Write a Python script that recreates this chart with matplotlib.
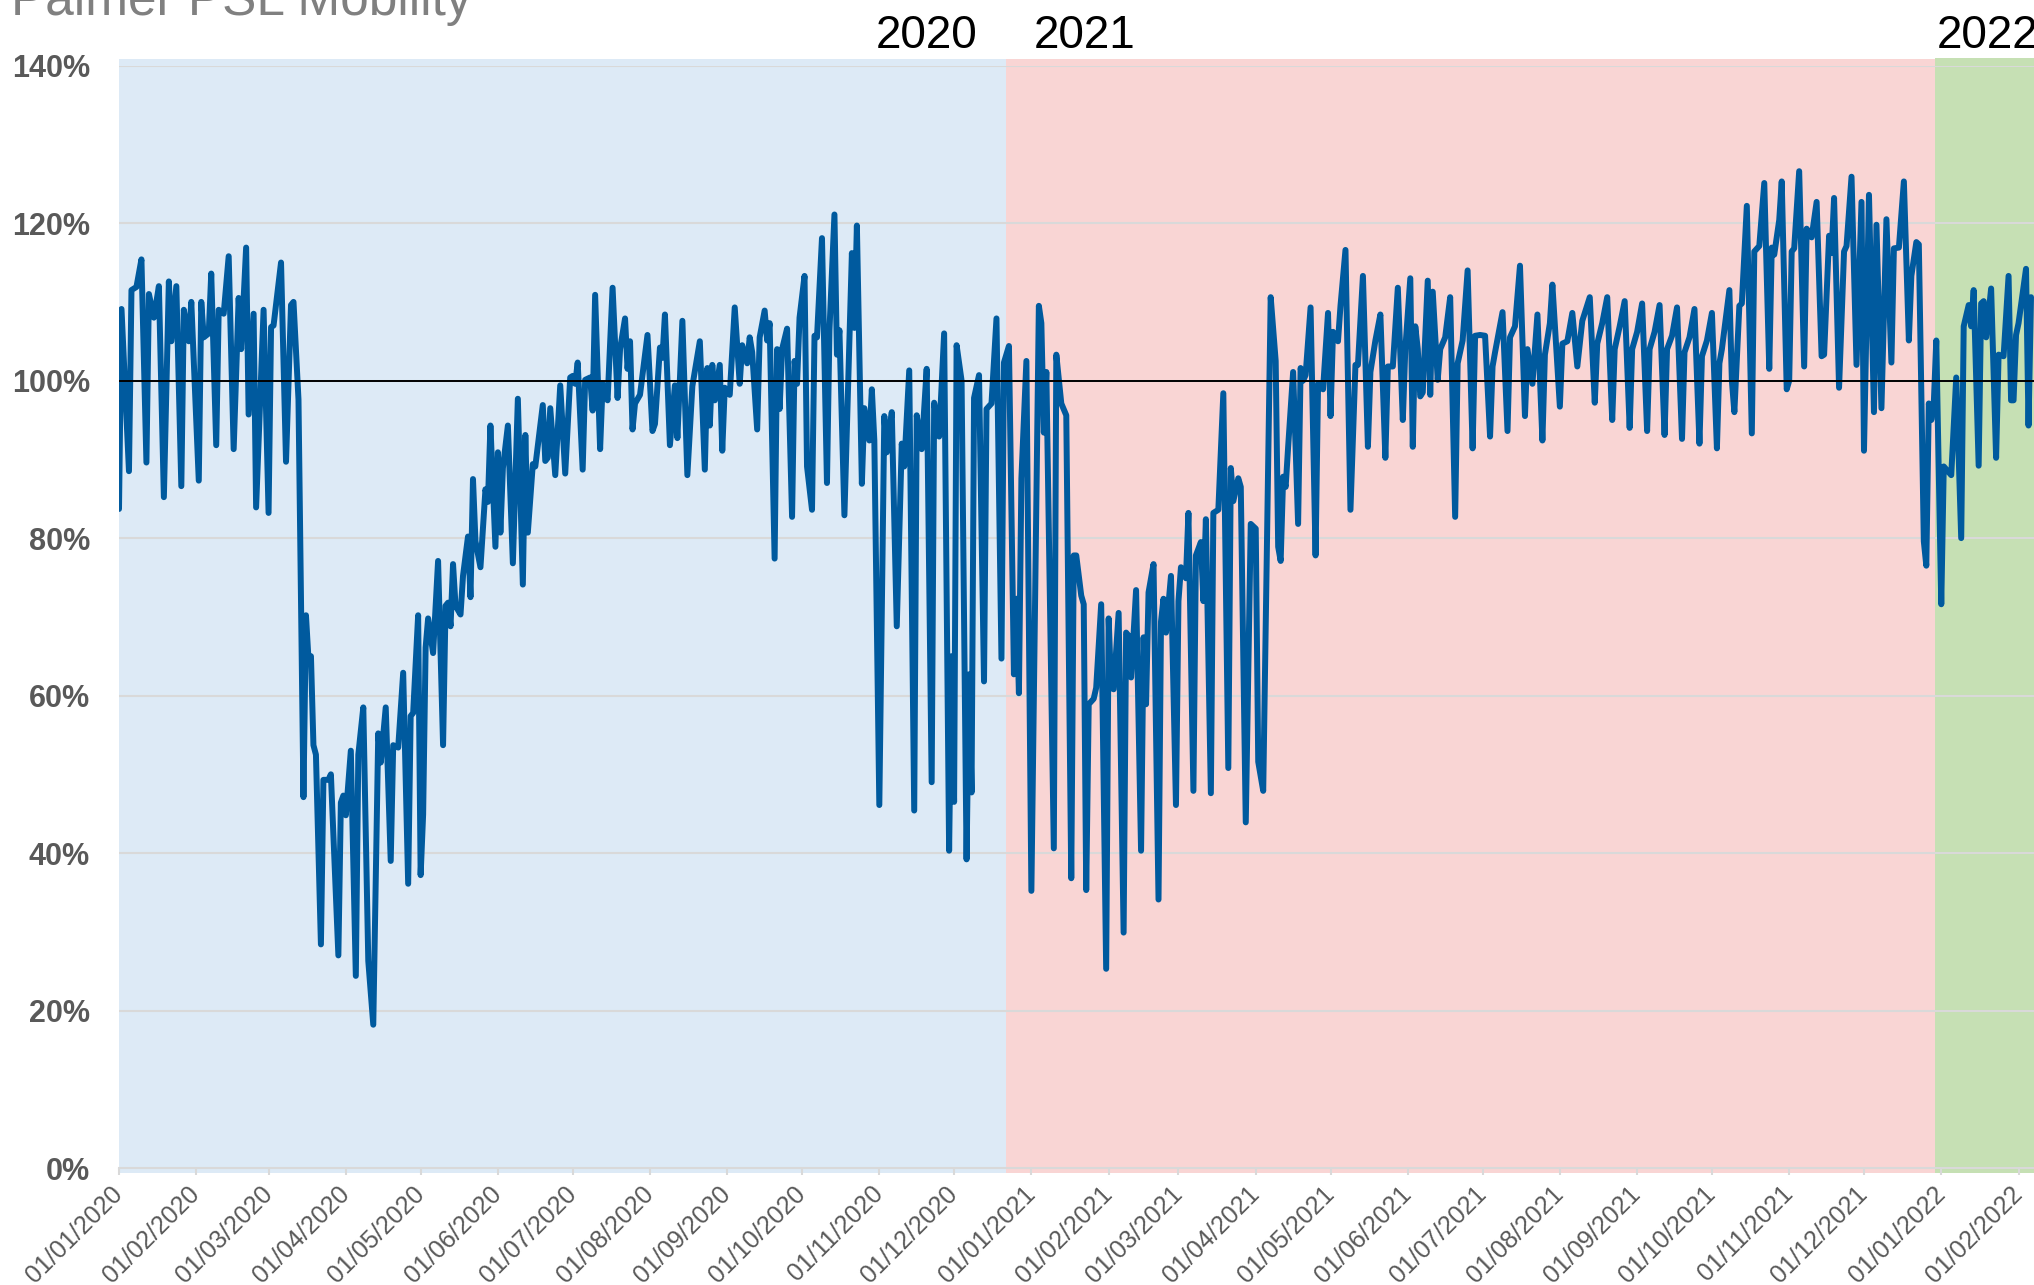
import pandas as pd
import matplotlib
matplotlib.use('Agg')
import matplotlib.pyplot as plt
import matplotlib.dates as mdates

# Palmer PSL mobility, % of baseline (day offset from 01/01/2020)
start_date = pd.Timestamp('2020-01-01')

days = [
    0, 1, 4, 5, 7, 9, 11, 12, 14, 16, 18, 20, 21, 23, 25, 26, 28, 29, 32, 33,
    34, 36, 37, 39, 40, 42, 44, 46, 48, 49, 51, 52, 54, 55, 58, 60, 61, 62, 65, 67,
    69, 70, 72, 74, 75, 76, 77, 78, 79, 81, 82, 84, 85, 88, 89, 90, 91, 93, 95, 96,
    98, 100, 102, 104, 105, 107, 109, 110, 112, 114, 116, 117, 118, 120, 121, 122, 123, 124, 126, 128,
    130, 131, 132, 133, 134, 135, 137, 138, 140, 141, 142, 143, 145, 147, 148, 149, 151, 152, 153, 154,
    156, 158, 160, 162, 163, 164, 166, 167, 170, 171, 172, 173, 175, 177, 179, 181, 182, 183, 184, 186,
    187, 189, 190, 191, 193, 194, 196, 198, 200, 201, 203, 204, 205, 206, 207, 209, 212, 214, 215, 217,
    218, 219, 221, 223, 224, 226, 228, 230, 233, 235, 236, 237, 238, 239, 241, 242, 243, 245, 247, 249,
    250, 252, 253, 254, 256, 257, 259, 260, 261, 263, 264, 265, 266, 268, 270, 271, 272, 273, 275, 276,
    278, 279, 280, 282, 284, 285, 287, 288, 289, 291, 294, 295, 296, 298, 299, 301, 302, 303, 305, 307,
    308, 310, 312, 314, 315, 317, 319, 320, 322, 324, 326, 327, 329, 331, 333, 334, 335, 336, 338, 340,
    341, 342, 343, 345, 347, 348, 350, 352, 354, 355, 357, 359, 360, 361, 362, 364, 366, 369, 370, 371,
    372, 375, 376, 378, 380, 382, 383, 384, 386, 387, 388, 389, 391, 392, 394, 396, 397, 398, 399, 401,
    403, 404, 405, 406, 408, 410, 411, 412, 413, 415, 417, 418, 419, 420, 422, 424, 425, 426, 428, 429,
    431, 432, 434, 435, 436, 438, 439, 441, 443, 445, 446, 447, 449, 450, 452, 454, 456, 457, 459, 462,
    464, 465, 466, 467, 468, 469, 471, 473, 474, 475, 476, 478, 480, 481, 483, 485, 486, 487, 489, 490,
    492, 494, 496, 497, 499, 501, 502, 504, 506, 508, 509, 511, 513, 515, 516, 518, 519, 520, 521, 522,
    523, 525, 526, 527, 529, 530, 532, 534, 536, 537, 539, 541, 543, 544, 546, 548, 550, 551, 552, 555,
    557, 558, 560, 562, 564, 565, 567, 569, 571, 572, 574, 575, 578, 579, 581, 583, 585, 587, 590, 592,
    593, 595, 597, 599, 600, 602, 604, 606, 607, 609, 611, 613, 614, 616, 618, 620, 621, 623, 625, 627,
    628, 630, 632, 634, 635, 637, 639, 641, 642, 643, 646, 647, 648, 650, 651, 653, 655, 656, 658, 660,
    662, 663, 664, 666, 667, 669, 670, 671, 672, 674, 676, 677, 679, 681, 683, 684, 686, 687, 688, 690,
    692, 693, 695, 697, 699, 700, 702, 704, 705, 707, 709, 711, 712, 714, 716, 718, 719, 721, 722, 724,
    725, 726, 727, 728, 729, 731, 732, 735, 737, 739, 740, 742, 743, 744, 746, 747, 748, 749, 751, 753,
    754, 756, 758, 759, 760, 761, 762, 765, 766, 767,
]

mobility = [
    83.7, 109.1, 88.5, 111.5, 111.9, 115.4, 89.6, 111.0, 108.0, 112.0, 85.2, 112.6, 105.0, 112.0, 86.6, 109.0, 105.0, 110.0, 87.3, 110.0,
    105.5, 106.0, 113.6, 91.8, 109.0, 108.5, 115.8, 91.3, 110.5, 104.0, 116.9, 95.7, 108.5, 83.9, 109.0, 83.2, 106.8, 107.0, 115.0, 89.7,
    109.6, 110.0, 97.6, 47.1, 70.2, 64.7, 65.0, 53.7, 52.5, 28.4, 49.3, 49.3, 50.0, 27.0, 46.4, 47.3, 44.8, 53.0, 24.4, 52.5,
    58.5, 26.3, 18.2, 55.2, 51.5, 58.5, 39.0, 53.7, 53.4, 62.9, 36.1, 57.4, 57.8, 70.2, 37.2, 44.9, 66.1, 69.8, 65.4, 77.1,
    53.7, 71.4, 71.8, 68.8, 76.7, 71.4, 70.3, 75.2, 80.2, 72.5, 87.5, 79.6, 76.3, 86.2, 84.6, 94.3, 78.9, 90.9, 80.7, 88.9,
    94.3, 76.8, 97.7, 74.1, 93.1, 80.7, 89.4, 89.1, 96.9, 89.8, 90.2, 96.5, 88.0, 99.4, 88.2, 100.4, 100.6, 99.6, 102.3, 88.7,
    100.1, 100.4, 96.2, 110.9, 91.3, 99.6, 97.5, 111.8, 97.8, 104.0, 107.9, 101.5, 105.0, 93.8, 97.1, 98.2, 105.8, 93.6, 94.5, 104.2,
    102.9, 108.4, 91.8, 99.4, 92.7, 107.6, 88.0, 99.3, 105.0, 88.7, 101.6, 94.3, 102.0, 97.5, 102.0, 91.1, 99.1, 98.2, 109.3, 99.6,
    104.5, 102.2, 105.5, 103.6, 93.8, 105.5, 108.9, 105.1, 107.3, 77.4, 104.0, 96.4, 104.0, 106.6, 82.7, 102.5, 99.6, 108.0, 113.3, 89.1,
    83.6, 105.7, 105.5, 118.1, 87.0, 106.4, 121.1, 103.3, 106.4, 82.9, 116.2, 106.7, 119.7, 86.9, 96.5, 92.4, 98.9, 92.4, 46.1, 95.5,
    90.9, 96.0, 68.8, 92.0, 89.1, 101.3, 45.4, 95.6, 91.3, 101.5, 49.0, 97.2, 92.9, 106.0, 40.3, 65.0, 46.5, 104.5, 100.0, 39.2,
    62.7, 47.7, 97.8, 100.7, 61.8, 96.4, 97.1, 107.9, 64.7, 102.3, 104.4, 62.7, 72.3, 60.3, 87.6, 102.5, 35.2, 109.5, 107.3, 93.4,
    101.1, 40.6, 103.3, 97.1, 95.6, 36.8, 77.8, 77.8, 72.7, 71.6, 35.3, 58.9, 59.6, 61.0, 71.6, 25.3, 69.8, 61.0, 60.8, 70.5,
    29.9, 68.0, 67.6, 62.3, 73.4, 40.3, 67.4, 58.9, 73.1, 76.7, 34.1, 69.4, 72.3, 68.0, 75.2, 46.1, 72.0, 76.3, 74.9, 83.2,
    47.9, 77.8, 79.5, 72.0, 82.4, 47.6, 83.2, 83.6, 98.4, 50.8, 88.9, 84.7, 87.6, 86.5, 43.9, 81.8, 81.2, 51.6, 47.9, 110.6,
    102.5, 78.9, 77.1, 87.8, 86.5, 91.6, 101.1, 81.8, 101.6, 100.0, 100.7, 109.3, 77.8, 99.6, 98.9, 108.6, 95.5, 106.2, 105.0, 109.5,
    116.6, 83.6, 102.0, 102.0, 113.3, 91.6, 101.1, 105.1, 108.4, 90.2, 101.8, 101.8, 111.8, 95.0, 104.0, 113.0, 91.6, 106.9, 104.0, 98.0,
    98.5, 112.7, 98.2, 111.3, 100.1, 104.0, 105.5, 110.6, 82.7, 102.2, 105.1, 114.0, 91.4, 105.7, 105.8, 105.7, 92.9, 101.8, 103.6, 108.7,
    93.6, 105.5, 106.9, 114.6, 95.5, 104.0, 99.6, 108.4, 92.4, 103.3, 107.3, 112.2, 96.7, 104.7, 105.0, 108.6, 101.8, 107.6, 110.6, 97.2,
    104.7, 107.3, 110.6, 95.0, 104.0, 106.9, 110.1, 94.0, 104.0, 106.2, 109.8, 93.6, 104.0, 106.2, 109.6, 93.1, 104.0, 105.7, 109.3, 92.6,
    103.6, 105.5, 109.1, 92.0, 103.1, 105.1, 108.6, 91.4, 102.2, 104.0, 111.5, 100.0, 96.0, 109.5, 109.8, 122.2, 93.3, 116.4, 117.1, 125.1,
    101.5, 116.9, 116.0, 120.4, 125.3, 98.9, 100.0, 116.4, 116.8, 126.6, 101.8, 119.3, 118.2, 122.7, 103.1, 103.3, 118.4, 116.2, 123.2, 99.1,
    116.4, 117.1, 125.9, 102.0, 122.7, 91.1, 123.6, 96.0, 119.8, 96.5, 120.5, 102.3, 116.8, 116.9, 125.3, 105.1, 113.3, 117.6, 117.3, 79.6,
    76.5, 97.1, 95.0, 97.1, 105.1, 71.6, 89.1, 88.0, 100.4, 80.0, 106.9, 109.6, 106.9, 111.5, 89.2, 109.8, 110.1, 105.5, 111.7, 90.2,
    103.3, 103.1, 113.3, 97.5, 97.5, 105.8, 107.3, 114.2, 94.3, 110.6,
]

# background year bands (day offsets) and year captions
band_edges = [0, 355.7, 728.4, 800]
band_colors = ['#DDEAF6', '#F9D5D4', '#C6E0B4']
year_labels = ['2020', '2021', '2022']

W, H = 2034, 1285
fig = plt.figure(figsize=(W / 100, H / 100), dpi=100)
plt.rcParams['font.family'] = ['Liberation Sans', 'DejaVu Sans']

ax = fig.add_axes([119 / W, 1 - 1168 / H, (W - 119) / W, (1168 - 65.7) / H])

x = start_date + pd.to_timedelta(days, unit='D')
edges = start_date + pd.to_timedelta(band_edges, unit='D')

for i, col in enumerate(band_colors):
    top = 1.0070 if i == 2 else 1.0058
    ax.axvspan(edges[i], edges[i + 1], ymin=-0.0045, ymax=top, color=col,
               lw=0, zorder=0, clip_on=False)

for v in range(0, 141, 20):
    if v > 0:
        ax.axhline(v, color='#D9D9D9', lw=1.5, zorder=1)

ax.plot(x, mobility, color='#005A9E', lw=4.3, solid_joinstyle='round',
        solid_capstyle='round', zorder=3)
ax.axhline(100, color='black', lw=1.4, zorder=4)

ax.set_ylim(0, 140)
ax.set_xlim(start_date, start_date + pd.Timedelta(days=768.2))
ax.set_facecolor('none')

ax.set_yticks(range(0, 141, 20))
ax.set_yticklabels([f'{v}%' for v in range(0, 141, 20)], fontsize=22,
                   fontweight='bold', color='#595959')
ax.tick_params(axis='y', length=0, pad=21)

ax.xaxis.set_major_locator(mdates.MonthLocator(bymonthday=1))
ax.xaxis.set_major_formatter(mdates.DateFormatter('%d/%m/%Y'))
ax.tick_params(axis='x', length=5, width=1.5, color='#D9D9D9', pad=11,
               labelsize=18, labelcolor='#595959')
for lab in ax.get_xticklabels():
    lab.set_rotation(45)
    lab.set_ha('right')
    lab.set_va('center')
    lab.set_rotation_mode('anchor')

for side in ['top', 'right', 'left']:
    ax.spines[side].set_visible(False)
ax.spines['bottom'].set_color('#D9D9D9')
ax.spines['bottom'].set_linewidth(1.5)
ax.spines['bottom'].set_zorder(2)

# titles / year captions placed in pixel terms of the original
fig.text(11 / W, 1 - 15 / H, 'Palmer PSL Mobility', fontsize=37,
         color='#808080', va='baseline', ha='left')
fig.text(977 / W, 1 - 48 / H, year_labels[0], fontsize=33, va='baseline', ha='right')
fig.text(1034 / W, 1 - 48 / H, year_labels[1], fontsize=33, va='baseline', ha='left')
fig.text(1937 / W, 1 - 48 / H, year_labels[2], fontsize=33, va='baseline', ha='left')

fig.savefig('out.png', dpi=100)
